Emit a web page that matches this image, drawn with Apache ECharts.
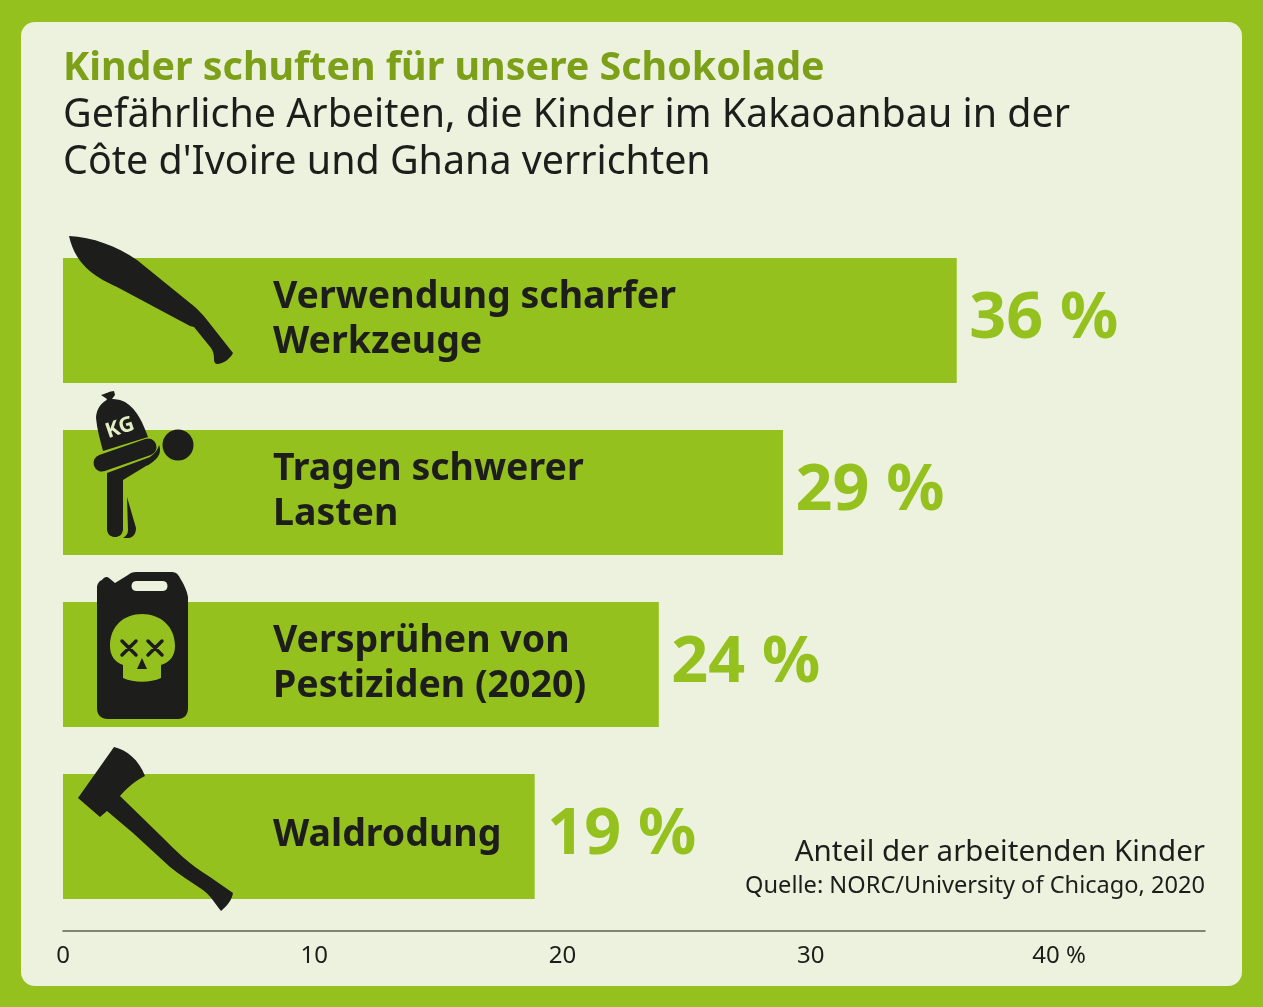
<!DOCTYPE html>
<html>
<head>
<meta charset="utf-8">
<style>html,body{margin:0;padding:0;background:#95c11f}#main{width:1263px;height:1007px}</style>
<script src="https://cdn.jsdelivr.net/npm/echarts@6/dist/echarts.min.js"></script>
</head>
<body>
<div id="main"></div>
<script>
var categories = ['Verwendung scharfer\nWerkzeuge', 'Tragen schwerer\nLasten', 'Versprühen von\nPestiziden (2020)', 'Waldrodung'];
var values = [36, 29, 24, 19];
var tickValues = [0, 10, 20, 30, 40];
var tickLabels = ['0', '10', '20', '30', '40 %'];

var FONT = '"Noto Sans", sans-serif';
var GREEN = '#95c11f', DARK = '#1d1d1b', PANEL = '#ecf2dd';

// Icons, in page pixels
var macheteIcon = 'M69,236 C92,237 117,246 137,260 L190,303 C198,309 203,315 207,320 L233,353 C230,359 224,363 218,364 C215,364 214,362 214,359 C214,354 213,351 211,348 L194,327 L190,326 L117,287 C100,279 76,268 69,236 Z';
var knotIcon = 'M101,395 C105,394 110,391 114,391 L115,395 L112,399 C116,400 121,401 125,403 L104,404 L107,399 Z';
var bagIcon = 'M105,401 C112,398 120,399 125,402 C138,410 143,424 148,437 L103,451 C100,440 97,429 96,418 C96,412 99,405 105,401 Z';
var bodyIcon = 'M107,473 L150,457 C154,454 158,450 159,445 C161,450 160,455 156,459 C153,462 149,465 146,466 L123,480 L123,530 C122,535 119,537 115,537 C111,537 108,535 107,530 Z';
var legIcon = 'M127,497 L136,528 C136,533 134,537 129,538 L123,538 C126,536 128,534 128,530 Z';
var armIcon = 'M102,463 L148,447';
var canIcon = 'M97,588 C97,584 99,581 102,580 C104,577 107,576 109,578 L115,583 L128,575 C130,573 133,572 136,572 L171,572 C176,572 178,574 180,578 C183,583 187,590 188,597 L188,708 C188,715 184,719 178,719 L108,719 C101,719 97,715 97,708 Z';
var handleIcon = 'M136,581 L163,581 C169,581 169,591 163,591 L136,591 C130,591 130,581 136,581 Z';
var skullIcon = 'M142,614 C160,614 175,626 175,646 C175,656 170,662 161,665 L161,678 C150,683 134,683 123,678 L123,665 C115,662 110,656 110,646 C110,626 124,614 142,614 Z';
var eyesIcon = 'M122,641 L136,655 M136,641 L122,655 M148,641 L162,655 M162,641 L148,655';
var noseIcon = 'M142,658 L147,669 L137,669 Z';
var axeIcon = 'M114,747 C127,750 139,760 145,776 C136,780 127,788 120,796 L160,835 C175,850 190,865 210,877 L233,893 C232,900 227,906 221,911 C216,905 210,894 200,888 C190,881 180,875 170,867 L133,833 L107,811 L100,817 L78,798 Z';

function txt(x, y, s, size, color, weight, align) {
  return { type: 'text', x: x, y: y, z: 11, style: { text: s, fontFamily: FONT, fontSize: size, fill: color, fontWeight: weight || 'normal', align: align || 'left', verticalAlign: 'middle' } };
}
function icon(d, fill) {
  return { type: 'path', shape: { pathData: d }, style: { fill: fill } };
}
function strokeIcon(d, color, width) {
  return { type: 'path', shape: { pathData: d }, style: { fill: 'none', stroke: color, lineWidth: width, lineCap: 'round' } };
}

var graphics = [
  { type: 'rect', z: -1, shape: { x: 21, y: 22, width: 1221, height: 964, r: 14 }, style: { fill: PANEL } },
  txt(63, 69, 'Kinder schuften für unsere Schokolade', 39.4, '#7ca018', 'bold'),
  txt(63, 116, 'Gefährliche Arbeiten, die Kinder im Kakaoanbau in der', 39.4, DARK),
  txt(63, 163, "Côte d'Ivoire und Ghana verrichten", 39.4, DARK),
  txt(1205, 853, 'Anteil der arbeitenden Kinder', 29.5, DARK, 'normal', 'right'),
  txt(1205, 886, 'Quelle: NORC/University of Chicago, 2020', 23.6, DARK, 'normal', 'right')
];

var chart = echarts.init(document.getElementById('main'));
chart.setOption({
  animation: false,
  backgroundColor: GREEN,
  graphic: { elements: graphics },
  grid: { left: 63, top: 234.5, width: 1142, height: 688 },
  xAxis: {
    type: 'value', min: 0, max: 46, interval: 10, offset: 8.5,
    splitLine: { show: false },
    axisLine: { show: true, onZero: false, lineStyle: { color: '#5c6152', width: 1.5 } },
    axisTick: { show: false },
    axisLabel: {
      color: DARK, fontFamily: FONT, fontSize: 24, margin: 13,
      customValues: tickValues,
      formatter: function (v) {
        var s = tickLabels[tickValues.indexOf(v)];
        return v === 0 ? s : '{s|' + s + '}';
      },
      rich: { s: { color: DARK, fontFamily: FONT, fontSize: 24, padding: [0, 0, 0, 6] } }
    }
  },
  yAxis: {
    type: 'category', inverse: true, data: categories,
    axisLine: { show: false }, axisTick: { show: false }, axisLabel: { show: false }
  },
  series: [{
    type: 'bar',
    data: values,
    barWidth: 125,
    itemStyle: { color: GREEN },
    label: {
      show: true, position: 'right', distance: 12.5, offset: [0, -1],
      formatter: '{c} %', color: GREEN, fontFamily: FONT, fontWeight: 'bold', fontSize: 64.6
    }
  }, {
    // category text sits inside the bars
    type: 'custom',
    data: values,
    z: 5,
    renderItem: function (params, api) {
      var p = api.coord([0, params.dataIndex]);
      return {
        type: 'text',
        x: p[0] + 210, y: p[1] - 1,
        style: {
          text: categories[params.dataIndex], fontFamily: FONT, fontWeight: 'bold', fontSize: 37.5,
          lineHeight: 45, fill: DARK, verticalAlign: 'middle', align: 'left'
        }
      };
    }
  }, {
    // icons
    type: 'custom',
    coordinateSystem: 'none',
    data: [0],
    z: 6,
    renderItem: function () {
      return {
        type: 'group',
        children: [
          icon(macheteIcon, DARK),
          icon(bodyIcon, DARK), icon(legIcon, DARK),
          strokeIcon(armIcon, DARK, 17),
          icon(knotIcon, DARK), icon(bagIcon, DARK),
          { type: 'circle', shape: { cx: 178, cy: 445, r: 15.5 }, style: { fill: DARK } },
          { type: 'text', x: 120, y: 428, rotation: 0.33, style: { text: 'KG', fontFamily: FONT, fontSize: 21, fontWeight: 'bold', fill: '#e4eec4', align: 'center', verticalAlign: 'middle' } },
          icon(canIcon, DARK),
          icon(handleIcon, PANEL),
          icon(skullIcon, GREEN),
          strokeIcon(eyesIcon, DARK, 3.5),
          icon(noseIcon, DARK),
          icon(axeIcon, DARK)
        ]
      };
    }
  }]
});
</script>
</body>
</html>
